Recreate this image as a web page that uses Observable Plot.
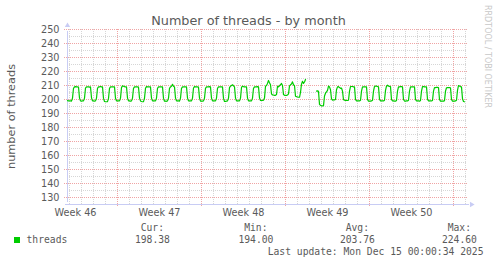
<!DOCTYPE html>
<html><head><meta charset="utf-8">
<script src="https://cdn.jsdelivr.net/npm/d3@7"></script>
<script src="https://cdn.jsdelivr.net/npm/@observablehq/plot@0.6"></script>
<style>
html,body{margin:0;padding:0;background:#fff;}
#wrap{position:relative;width:497px;height:264px;overflow:hidden;}
#wrap svg{position:absolute;left:0;top:0;}
</style></head><body><div id="wrap"></div>
<script>
// ---- texts ----
const title = "Number of threads - by month";
const yLabel = "number of threads";
const watermark = "RRDTOOL / TOBI OETIKER";
const seriesName = "threads";
const statNames = ["Cur:", "Min:", "Avg:", "Max:"];
const statValues = ["198.38", "194.00", "203.76", "224.60"];
const lastUpdate = "Last update: Mon Dec 15 00:00:34 2025";

// ---- axes ----
const yTicks = [130, 140, 150, 160, 170, 180, 190, 200, 210, 220, 230, 240, 250];
const yMinor = [135, 145, 155, 165, 175, 185, 195, 205, 215, 225, 235, 245];
const weekLabels = ["Week 46", "Week 47", "Week 48", "Week 49", "Week 50"];
const weekCenters = ["2025-11-13T12:00Z", "2025-11-20T12:00Z", "2025-11-27T12:00Z", "2025-12-04T12:00Z", "2025-12-11T12:00Z"];
const xStart = "2025-11-12T20:00Z";
const xEnd = "2025-12-16T04:00Z";
const yMin = 125, yMax = 250;

// ---- data: 2-hour samples, first at Nov 12 20:00 UTC ----
const firstSamples = [199.2, 199.0];
// one row per day (Nov 13 .. Dec 15), samples at 00,02,...,22 h
const days = [
  [199,199,198.9,201,208,209,209.2,209,209,208.9,201,199],
  [198.9,199,199,201,208.2,209.1,209,209,208.8,209,201.2,199],
  [199,198.9,199,201,208,209,209,209.3,209,209,200.8,198.6],
  [198.4,198.4,198.5,200.8,208,209,209,209.1,209,209,200.9,199],
  [199,199,199,201,208.5,209.8,209.5,209.2,209,209,201,199],
  [199,198.8,199,201,208,209,209,209,209,208.8,201,199],
  [198.6,198.4,198.5,201,208,209.2,209,209,209,209,201,199],
  [199,199,199,201,208,209,209,209,209,209,200.8,198.8],
  [198.8,198.7,199,201,208,209,209.5,210.8,209.5,209,201,199],
  [199,199,198.8,201,208,209,209,209,209,209,201,199],
  [199,199,199,201,208.2,209.2,209,209,209,208.8,201,198.8],
  [198.8,198.8,199,201,208,209,209,209,209.2,209,201,199],
  [199,199,199,201,208,209,209,209,209,209,200.8,198.6],
  [198.6,198.8,199,201,208.5,209.5,210,210.5,209.8,209,201,199],
  [199,199,199,201,208.6,209.5,209.2,209,209,209,201,199],
  [199,199,199,201,208,209,209,209,209.2,209,201,199.3],
  [199.3,199.3,199.5,201,209.5,210,211.5,213.6,212,210.5,204,203.2],
  [203.2,203,203,203.5,209.5,209,209.8,210.5,211.5,210,203.5,203],
  [203,203,203.2,204,209.7,210.5,211,212.6,210.5,209.8,202.3,202],
  [201.8,201.6,201.6,205,211,213,211.5,212.5,214.3,null,null,null],
  [null,null,null,null,null,null,null,206,206.2,205.8,196.5,195.8],
  [195.5,195.4,195.6,202.5,204.5,205.5,206.5,209.6,209,207,200.5,199.6],
  [199.7,199.7,200,207,209,209.2,208.5,208,208.2,206,199.8,199.6],
  [199.4,199.3,199.3,199.5,206,209.2,209.3,209.3,209,209,200,199],
  [199,199,199,199.4,206,209,209,209,209,209,200,198.8],
  [198.8,198.8,199,199.4,206,209.3,209.5,209.5,209.3,209,200.2,199],
  [199,199,199,199.5,206.5,209.5,210.2,209.6,209.4,209.2,200,199],
  [199,198.8,198.8,199.3,206,209,209,209.2,209.2,209,200,198.9],
  [198.9,199,199,199.5,206,209,209,209,209,209,200,199],
  [199,199,198.8,199.3,206,209.2,209.3,209,209,209,200.2,199],
  [199,199,199,199.3,206,208.5,208.5,208.6,208.6,208.5,200,198.8],
  [198.8,198.8,198.8,199.2,206,208.4,208.5,208.5,208.5,208.4,200,198.8],
  [198.8,198.8,199,199.5,206.5,210,209.6,209.2,209,200.5,198.6,198.38]
];

const lineColor = "#00cc00";
const textColor = "#5a5a5a";
const axisColor = "#c8ccf4";

const t0 = new Date(xStart);
const samples = firstSamples.concat(days.flat());
const data = samples.map((v, i) => ({t: new Date(+t0 + i * 7200000), v}));
const xDomain = [new Date(xStart), new Date(xEnd)];
const dayGrid = d3.utcDay.range(xDomain[0], xDomain[1]);
const weekGrid = d3.utcMonday.range(xDomain[0], xDomain[1]);
const weekDates = weekCenters.map(d => new Date(d));

const chart = Plot.plot({
  width: 497, height: 264,
  marginLeft: 67, marginRight: 30, marginTop: 29, marginBottom: 60,
  x: {type: "utc", domain: xDomain},
  y: {domain: [yMin, yMax]},
  style: {background: "transparent", fontFamily: "DejaVu Sans", fontSize: "9.7px", color: textColor},
  marks: [
    Plot.ruleY(yMinor, {stroke: "#d6d6d6", strokeDasharray: "1,1"}),
    Plot.ruleX(dayGrid, {stroke: "#d6d6d6", strokeDasharray: "1,1"}),
    Plot.ruleY(yTicks, {stroke: "#f0a4a4", strokeDasharray: "1,1", insetLeft: -3}),
    Plot.ruleX(weekGrid, {stroke: "#f0a4a4", strokeDasharray: "1,1", insetBottom: -3}),
    Plot.axisY(yTicks, {tickSize: 0, tickPadding: 8, label: null, fontSize: 9.7, fill: textColor}),
    Plot.axisX(weekDates, {tickSize: 0, tickPadding: 5, label: null, fontSize: 9.7, fill: textColor,
      tickFormat: d => weekLabels[weekDates.findIndex(c => +c === +d)]}),
    Plot.ruleX([xDomain[0]], {y1: yMin, y2: yMax, stroke: axisColor, insetTop: -2, insetBottom: -2}),
    Plot.ruleY([yMin], {x1: xDomain[0], x2: xDomain[1], stroke: axisColor, insetLeft: -2, insetRight: -2}),
    Plot.line(data, {x: "t", y: "v", stroke: lineColor, strokeWidth: 1.2}),
    Plot.dot([0], {x: () => xDomain[0], y: () => yMax, symbol: "triangle", r: 2, fill: axisColor, stroke: null, dy: -4}),
    Plot.dot([0], {x: () => xDomain[1], y: () => yMin, symbol: "triangle", r: 2, fill: axisColor, stroke: null, rotate: 90, dx: 4})
  ]
});
document.getElementById("wrap").appendChild(chart);

// overlay texts (title, y label, watermark, legend)
const ov = d3.select("#wrap").append("svg").attr("width", 497).attr("height", 264)
  .style("font-family", "DejaVu Sans").attr("fill", textColor);
ov.append("text").attr("x", 248.5).attr("y", 24.5).attr("text-anchor", "middle")
  .attr("font-size", 12.8).text(title);
ov.append("text").attr("transform", "translate(15,116.5) rotate(-90)").attr("text-anchor", "middle")
  .attr("font-size", 11.3).text(yLabel);
ov.append("text").attr("transform", "translate(485,5) rotate(90)").attr("font-size", 8)
  .attr("fill", "#c8c8c8").text(watermark);
const mono = ov.append("g").style("font-family", "DejaVu Sans Mono").attr("font-size", 9.7);
const headerRight = [164, 267.5, 369, 471];
statNames.forEach((s, i) => mono.append("text").attr("x", headerRight[i]).attr("y", 231)
  .attr("text-anchor", "end").text(s));
statValues.forEach((s, i) => mono.append("text").attr("x", headerRight[i] + 5.9).attr("y", 243.3)
  .attr("text-anchor", "end").text(s));
ov.append("rect").attr("x", 14).attr("y", 237).attr("width", 6).attr("height", 6).attr("fill", lineColor);
mono.append("text").attr("x", 26.5).attr("y", 243.3).text(seriesName);
mono.append("text").attr("x", 483.5).attr("y", 254.5).attr("text-anchor", "end").text(lastUpdate);
</script></body></html>
